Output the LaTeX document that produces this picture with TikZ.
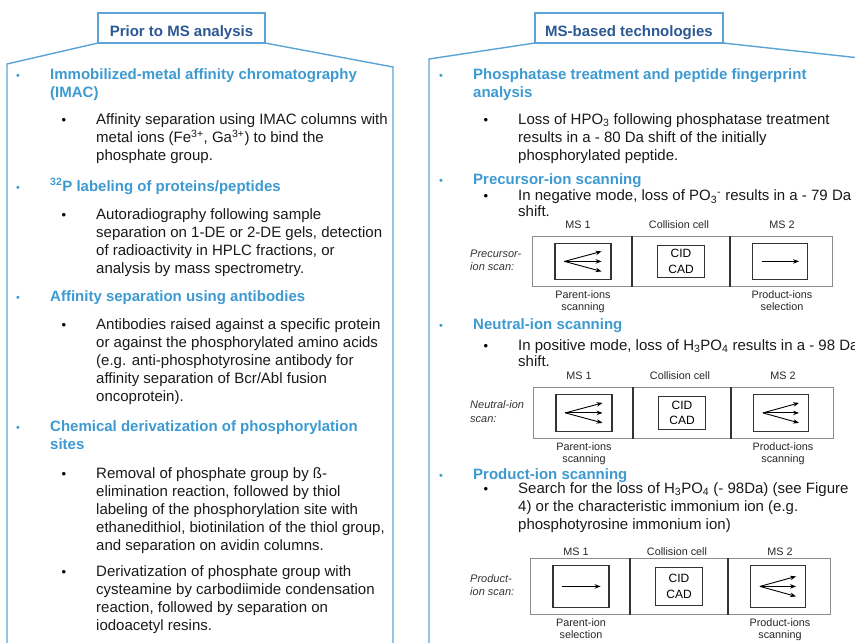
\documentclass[tikz,border=0pt]{standalone}
\usepackage{fontspec}
\setmainfont{Liberation Sans}
\usetikzlibrary{%
    arrows.meta,
    positioning
}

\definecolor{panelblue}{HTML}{5AA3D6}
\definecolor{topicblue}{HTML}{3D9AD1}
\definecolor{headerblue}{HTML}{2C5894}
\definecolor{boxgray}{HTML}{8C8C8C}
\definecolor{inkgray}{HTML}{333333}

\newcommand{\bodyfont}{\fontsize{15}{18}\selectfont}
\newcommand{\topicfont}{\fontsize{15}{18}\selectfont\bfseries}
\newcommand{\headerfont}{\fontsize{15}{18}\selectfont\bfseries}
\newcommand{\lblfont}{\fontsize{10.8}{13}\selectfont}
\newcommand{\scanfont}{\fontsize{11}{13}\selectfont\itshape}
\newcommand{\cidfont}{\fontsize{12}{15.5}\selectfont}

\tikzset{
    panel/.style = {draw=panelblue, line width=1.4pt},
    headbox/.style = {draw=panelblue, line width=1.4pt, fill=white, minimum height=30pt,
        inner sep=0pt, outer sep=0pt, font=\headerfont, text=headerblue,
        text height=16pt, text depth=0pt},
    topic/.style = {anchor=base west, inner sep=0pt, font=\topicfont, text=topicblue},
    body/.style = {anchor=base west, inner sep=0pt, font=\bodyfont, text=black!90},
    topicdot/.style = {anchor=base, inner sep=0pt, font=\fontsize{11}{13}\selectfont, text=topicblue},
    bodydot/.style = {anchor=base, inner sep=0pt, font=\fontsize{13}{15}\selectfont, text=black},
    outerbox/.style = {draw=boxgray, line width=0.8pt, anchor=north west, inner sep=0pt},
    divider/.style = {draw=inkgray, line width=1.6pt},
    innerbox/.style = {draw=inkgray, line width=1.1pt, inner sep=0pt},
    lbl/.style = {font=\lblfont, inner sep=0pt, text height=8pt, text depth=2.5pt, text=black!85},
    scan/.style = {font=\scanfont, inner sep=0pt, text height=8.5pt, text depth=2.5pt, text=black!80},
    ionarrow/.style = {draw=black, line width=0.9pt, -{Stealth[length=6pt,width=4.5pt]}}
}

\begin{document}
\begin{tikzpicture}[x=1pt,y=-1pt]
    \useasboundingbox (0,0) rectangle (855,643);

    % panel outlines
    \coordinate (prior-tl) at (7,64);
    \coordinate (prior-bl) at (7,650);
    \coordinate (prior-tr) at (393,67);
    \coordinate (prior-br) at (393,650);
    \coordinate (msb-tl) at (429,59);
    \coordinate (msb-bl) at (429,650);
    \coordinate (msb-tr) at (860,58);

    \node[headbox, minimum width=167pt] (prior) at (181.5,28) {Prior to MS analysis};
    \node[headbox, minimum width=188pt] (msb) at (629,28) {MS-based technologies};

    \draw[panel] (prior-bl) -- (prior-tl) -- (prior.south west);
    \draw[panel] (prior.south east) -- (prior-tr) -- (prior-br);
    \draw[panel] (msb-bl) -- (msb-tl) -- (msb.south west);
    \draw[panel] (msb.south east) -- (msb-tr);

    % left panel
    \node[topicdot] (imac-dot) at (18,79) {\textbullet};
    \foreach \Line [count=\i] in {Immobilized-metal affinity chromatography, {(IMAC)}}
        \node[topic] (imac-t\i) at (50,{79+(\i-1)*18.1}) {\Line};
    \node[bodydot] (imac-sub) at (64,124.5) {\textbullet};
    \foreach \Line [count=\i] in {%
        Affinity separation using IMAC columns with,
        {metal ions (Fe\textsuperscript{3+}, Ga\textsuperscript{3+}) to bind the},
        phosphate group.%
        }
        \node[body] (imac-b\i) at (96,{124.5+(\i-1)*18.2}) {\Line};

    \node[topicdot] (label-dot) at (18,191) {\textbullet};
    \node[topic] (label-t1) at (50,191) {\textsuperscript{32}P labeling of proteins/peptides};
    \node[bodydot] (label-sub) at (64,219.3) {\textbullet};
    \foreach \Line [count=\i] in {%
        Autoradiography following sample,
        {separation on 1-DE or 2-DE gels, detection},
        {of radioactivity in HPLC fractions, or},
        analysis by mass spectrometry.%
        }
        \node[body] (label-b\i) at (96,{219.3+(\i-1)*18.2}) {\Line};

    \node[topicdot] (anti-dot) at (18,301.7) {\textbullet};
    \node[topic] (anti-t1) at (50,301.7) {Affinity separation using antibodies};
    \node[bodydot] (anti-sub) at (64,329) {\textbullet};
    \foreach \Line [count=\i] in {%
        Antibodies raised against a specific protein,
        or against the phosphorylated amino acids,
        {(e.g. anti-phosphotyrosine antibody for},
        affinity separation of Bcr/Abl fusion,
        {oncoprotein).}%
        }
        \node[body] (anti-b\i) at (96,{329+(\i-1)*18.2}) {\Line};

    \node[topicdot] (deriv-dot) at (18,431.7) {\textbullet};
    \foreach \Line [count=\i] in {Chemical derivatization of phosphorylation, sites}
        \node[topic] (deriv-t\i) at (50,{431.7+(\i-1)*18.2}) {\Line};
    \node[bodydot] (deriv-sub1) at (64,478.3) {\textbullet};
    \foreach \Line [count=\i] in {%
        Removal of phosphate group by ß-,
        {elimination reaction, followed by thiol},
        labeling of the phosphorylation site with,
        {ethanedithiol, biotinilation of the thiol group,},
        and separation on avidin columns.%
        }
        \node[body] (deriv-b\i) at (96,{478.3+(\i-1)*18}) {\Line};
    \node[bodydot] (deriv-sub2) at (64,576.7) {\textbullet};
    \foreach \Line [count=\i] in {%
        Derivatization of phosphate group with,
        cysteamine by carbodiimide condensation,
        {reaction, followed by separation on},
        iodoacetyl resins.%
        }
        \node[body] (cyst-b\i) at (96,{576.7+(\i-1)*18}) {\Line};

    % right panel
    \node[topicdot] (phos-dot) at (441,79) {\textbullet};
    \foreach \Line [count=\i] in {Phosphatase treatment and peptide fingerprint, analysis}
        \node[topic] (phos-t\i) at (473,{79+(\i-1)*18}) {\Line};
    \node[bodydot] (phos-sub) at (486,124.3) {\textbullet};
    \foreach \Line [count=\i] in {%
        Loss of HPO\textsubscript{3} following phosphatase treatment,
        results in a - 80 Da shift of the initially,
        phosphorylated peptide.%
        }
        \node[body] (phos-b\i) at (518,{124.3+(\i-1)*18.2}) {\Line};

    \node[topicdot] (prec-dot) at (441,184.5) {\textbullet};
    \node[topic] (prec-t1) at (473,184.5) {Precursor-ion scanning};
    \node[bodydot] (prec-sub) at (486,200.7) {\textbullet};
    \foreach \Line [count=\i] in {%
        {In negative mode, loss of PO\textsubscript{3}\textsuperscript{-} results in a - 79 Da},
        shift.%
        }
        \node[body] (prec-b\i) at (518,{200.7+(\i-1)*15.8}) {\Line};

    \node[topicdot] (neut-dot) at (441,329) {\textbullet};
    \node[topic] (neut-t1) at (473,329) {Neutral-ion scanning};
    \node[bodydot] (neut-sub) at (486,350) {\textbullet};
    \foreach \Line [count=\i] in {%
        {In positive mode, loss of H\textsubscript{3}PO\textsubscript{4} results in a - 98 Da},
        shift.%
        }
        \node[body] (neut-b\i) at (518,{350+(\i-1)*16}) {\Line};

    \node[topicdot] (prod-dot) at (441,479.3) {\textbullet};
    \node[topic] (prod-t1) at (473,479.3) {Product-ion scanning};
    \node[bodydot] (prod-sub) at (486,493.3) {\textbullet};
    \foreach \Line [count=\i] in {%
        {Search for the loss of H\textsubscript{3}PO\textsubscript{4} (- 98Da) (see Figure},
        {4) or the characteristic immonium ion (e.g.},
        {phosphotyrosine immonium ion)}%
        }
        \node[body] (prod-b\i) at (518,{493.3+(\i-1)*18}) {\Line};

    % scan diagrams
    \foreach \Row/\Ox/\Oy/\Hgt/\Gap/\ScanA/\ScanB/\LeftA/\LeftB/\RightA/\RightB in {%
        p/532/236/50/8pt/Precursor-/ion scan:/Parent-ions/scanning/Product-ions/selection,
        n/533/387/51/8pt/Neutral-ion/scan:/Parent-ions/scanning/Product-ions/scanning,
        q/530/558/56/3pt/Product-/ion scan:/Parent-ion/selection/Product-ions/scanning%
        }
        {
        \node[outerbox, minimum width=300pt, minimum height=\Hgt] (\Row-box) at (\Ox,\Oy) {};
        \draw[divider] ([xshift=100pt]\Row-box.north west) -- ([xshift=100pt]\Row-box.south west);
        \draw[divider] ([xshift=198pt]\Row-box.north west) -- ([xshift=198pt]\Row-box.south west);

        \node[innerbox, minimum width=56pt, minimum height={\Hgt-14}] (\Row-ms1) at ([xshift=51pt]\Row-box.west) {};
        \node[innerbox, minimum width=47pt, minimum height={\Hgt-18}, font=\cidfont, align=center] (\Row-cc) at ([xshift=149pt]\Row-box.west) {CID\\CAD};
        \node[innerbox, minimum width=55pt, minimum height={\Hgt-14}] (\Row-ms2) at ([xshift=248pt]\Row-box.west) {};

        \node[lbl, anchor=base] (\Row-l1) at ([xshift=46pt,yshift=\Gap]\Row-box.north west) {MS 1};
        \node[lbl, anchor=base] (\Row-l2) at ([xshift=147pt,yshift=\Gap]\Row-box.north west) {Collision cell};
        \node[lbl, anchor=base] (\Row-l3) at ([xshift=250pt,yshift=\Gap]\Row-box.north west) {MS 2};

        \node[lbl, anchor=base] (\Row-u1) at ([xshift=51pt,yshift=-12pt]\Row-box.south west) {\LeftA};
        \node[lbl] (\Row-u2) [below=1pt of \Row-u1] {\LeftB};
        \node[lbl, anchor=base] (\Row-u3) at ([xshift=250pt,yshift=-12pt]\Row-box.south west) {\RightA};
        \node[lbl] (\Row-u4) [below=1pt of \Row-u3] {\RightB};

        \node[scan, anchor=base west] (\Row-s1) at (470,{\Oy+0.5*\Hgt-4}) {\ScanA};
        \node[scan] (\Row-s2) [below=2.5pt of \Row-s1.south west, anchor=north west] {\ScanB};
        }

    \foreach \b in {p-ms1,n-ms1,n-ms2,q-ms2}
        \foreach \dy in {10,0,-10}
            \draw[ionarrow] ([xshift=10pt]\b.west) -- ([xshift=-10pt,yshift=\dy pt]\b.east);
    \foreach \b in {p-ms2,q-ms1}
        \draw[ionarrow] ([xshift=10pt]\b.west) -- ([xshift=-9pt]\b.east);
\end{tikzpicture}
\end{document}
